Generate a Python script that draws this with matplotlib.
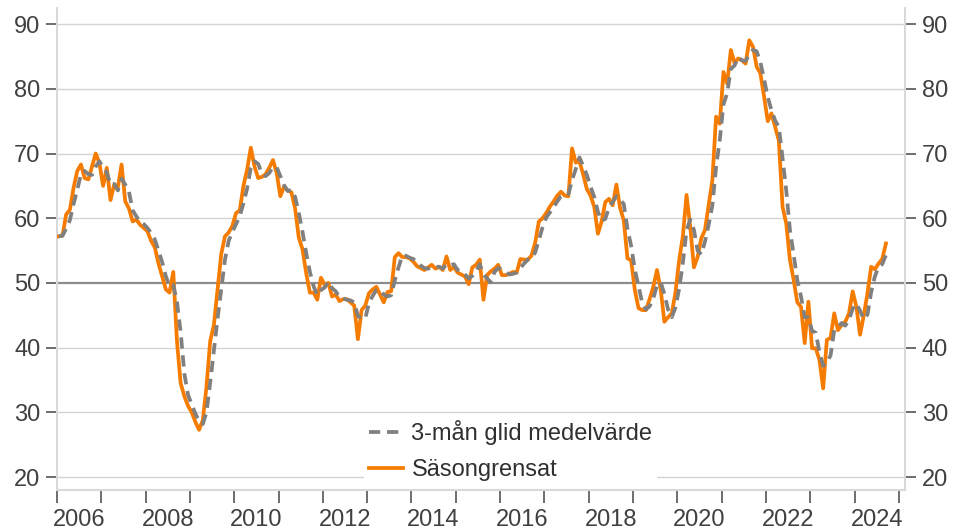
import numpy as np
import matplotlib
matplotlib.use("Agg")
import matplotlib.pyplot as plt

plt.rcParams['font.family'] = ['Liberation Sans', 'DejaVu Sans']

# Säsongrensat, monthly from Jan 2006
sasongrensat = [
    57.2, 57.3, 60.6, 61.3, 64.7, 67.3, 68.3, 66.2, 66.0, 68.0, 70.0, 68.5,  # 2006
    65.0, 67.8, 62.8, 65.2, 64.8, 68.3, 62.6, 61.5, 59.5, 59.8, 59.0, 58.5,  # 2007
    58.0, 56.5, 55.5, 53.0, 51.0, 49.0, 48.5, 51.7, 41.0, 34.5, 32.5, 31.0,  # 2008
    30.0, 28.5, 27.3, 28.8, 34.0, 41.0, 43.5, 49.0, 54.5, 57.2, 57.8, 58.8,  # 2009
    60.8, 61.2, 65.0, 67.5, 70.9, 68.0, 66.2, 66.4, 66.8, 67.8, 69.0, 67.0,  # 2010
    63.4, 64.9, 64.3, 64.0, 61.5, 57.0, 55.2, 51.5, 48.5, 48.5, 47.4, 50.8,  # 2011
    49.7, 50.0, 47.9, 48.2, 47.2, 47.5, 47.5, 47.0, 46.5, 41.3, 45.8, 46.5,  # 2012
    48.4, 49.0, 49.4, 48.2, 47.0, 48.6, 48.7, 54.0, 54.6, 54.0, 54.0, 53.8,  # 2013
    53.3, 52.6, 52.3, 52.0, 52.4, 52.8, 52.2, 52.5, 52.0, 54.1, 52.0, 52.5,  # 2014
    51.6, 51.3, 51.0, 49.8, 52.4, 52.8, 53.6, 47.4, 51.2, 51.8, 52.2, 52.8,  # 2015
    51.2, 51.2, 51.4, 51.7, 51.6, 53.7, 53.6, 53.6, 54.2, 56.2, 59.5, 60.0,  # 2016
    60.8, 61.8, 62.6, 63.5, 64.1, 63.5, 63.4, 70.8, 68.6, 68.8, 66.8, 64.5,  # 2017
    63.5, 61.8, 57.6, 59.5, 62.5, 63.0, 62.0, 65.2, 61.6, 59.7, 53.8, 53.5,  # 2018
    48.9, 46.1, 45.8, 45.8, 47.5, 49.4, 52.0, 49.0, 44.0, 44.7, 45.3, 48.5,  # 2019
    53.5, 57.2, 63.6, 58.7, 52.4, 54.0, 56.9, 58.2, 62.0, 65.9, 75.7, 74.6,  # 2020
    82.6, 80.8, 86.0, 84.0, 84.7, 84.4, 83.9, 87.5, 86.5, 83.4, 82.4, 78.8,  # 2021
    75.0, 76.2, 74.1, 72.0, 61.8, 59.2, 53.6, 50.5, 47.0, 46.3, 40.7, 47.1,  # 2022
    39.9, 39.9, 38.1, 33.7, 41.2, 41.5, 45.3, 42.7, 43.5, 44.0, 45.3, 48.7,  # 2023
    46.3, 42.0, 45.0, 48.4, 52.5, 52.1, 53.0, 53.7, 56.1,                    # 2024
]

# 3-mån glid medelvärde
glid_medel = [
    57.2, 57.3, 58.4, 59.7, 62.2, 64.4, 66.8, 67.3, 66.8, 66.7, 68.0, 68.8,
    67.8, 67.1, 65.2, 65.3, 64.3, 66.1, 65.2, 64.1, 61.2, 60.3, 59.4, 59.1,
    58.5, 57.7, 56.7, 55.0, 53.2, 51.0, 49.5, 49.7, 47.1, 42.4, 36.0, 32.7,
    31.2, 29.8, 28.6, 28.2, 30.0, 34.6, 39.5, 44.5, 49.0, 53.6, 56.5, 57.9,
    59.1, 60.3, 62.3, 64.6, 67.8, 68.8, 68.4, 66.9, 66.5, 67.0, 67.9, 67.9,
    66.5, 65.1, 64.2, 64.4, 63.3, 60.8, 57.9, 54.6, 51.7, 49.5, 48.1, 48.9,
    49.3, 50.2, 49.2, 48.7, 47.8, 47.6, 47.4, 47.3, 47.0, 44.9, 44.5, 44.5,
    46.9, 48.0, 48.9, 48.9, 48.2, 47.9, 48.1, 50.4, 52.4, 54.2, 54.2, 53.9,
    53.7, 53.2, 52.7, 52.3, 52.2, 52.4, 52.5, 52.5, 52.2, 52.9, 52.7, 52.9,
    52.0, 51.8, 51.3, 50.7, 51.1, 51.7, 52.9, 51.3, 50.7, 50.1, 51.7, 52.3,
    52.1, 51.7, 51.3, 51.4, 51.6, 52.3, 53.0, 53.6, 53.8, 54.7, 56.6, 58.6,
    60.1, 60.9, 61.7, 62.6, 63.4, 63.7, 63.7, 65.9, 67.6, 69.4, 68.1, 66.7,
    64.9, 63.3, 61.0, 59.6, 59.9, 61.7, 62.5, 63.4, 62.9, 62.2, 58.4, 55.7,
    52.1, 49.5, 46.9, 45.9, 46.4, 47.6, 49.6, 50.1, 48.3, 45.9, 44.7, 46.2,
    49.1, 53.1, 58.1, 59.8, 58.2, 55.0, 54.4, 56.4, 59.0, 62.0, 67.9, 72.1,
    77.6, 79.3, 83.1, 83.6, 84.9, 84.4, 84.3, 85.3, 86.0, 85.8, 84.1, 81.5,
    78.7, 76.7, 75.1, 74.1, 69.3, 64.3, 58.2, 54.4, 50.4, 47.9, 44.7, 44.7,
    42.6, 42.3, 39.3, 37.2, 37.7, 38.8, 42.7, 43.2, 43.8, 43.4, 44.3, 46.0,
    46.8, 45.7, 44.4, 45.1, 48.6, 51.0, 52.5, 52.9, 54.3,
]

start_year = 2006
years = list(range(2006, 2026))
label_years = list(range(2006, 2025, 2))
y_ticks = [20, 30, 40, 50, 60, 70, 80, 90]

x = start_year + (np.arange(len(sasongrensat)) + 0.5) / 12

text_col = '#404040'
fig = plt.figure(figsize=(9.54, 5.30), dpi=100)
ax = fig.add_axes([0.0597, 0.0755, 0.889, 0.9095])

for v in y_ticks:
    if v == 50:
        ax.axhline(v, color='#8c8c8c', lw=1.6, zorder=1)
    else:
        ax.axhline(v, color='#d4d4d4', lw=1.0, zorder=1)

ax.plot(x, sasongrensat, color='#f57c00', lw=2.7, zorder=3, label='Säsongrensat')
ax.plot(x, glid_medel, color='#808080', lw=2.7, ls=(0, (3.0, 1.8)), zorder=4,
        label='3-mån glid medelvärde')

ax.set_xlim(2006, 2025.14)
ax.set_ylim(18, 92.5)

ax.set_yticks(y_ticks)
ax.tick_params(axis='y', which='both', left=True, right=True, labelleft=True,
               labelright=True, length=8, width=1.2, color='#555555',
               labelsize=17, labelcolor=text_col, pad=4)

ax.set_xticks(years)
ax.set_xticklabels([])
ax.set_xticks([y + 0.5 for y in label_years], minor=True)
ax.set_xticklabels([str(y) for y in label_years], minor=True)
ax.tick_params(axis='x', which='major', length=9, width=1.2, color='#555555', direction='out')
ax.tick_params(axis='x', which='minor', length=0, labelsize=17, labelcolor=text_col, pad=14)

for s in ['left', 'right', 'bottom']:
    ax.spines[s].set_color('#d9d9d9')
    ax.spines[s].set_linewidth(1.5)
ax.spines['top'].set_visible(False)

handles, labels = ax.get_legend_handles_labels()
leg = ax.legend(handles[::-1], labels[::-1], loc='lower center',
                bbox_to_anchor=(0.535, -0.016), frameon=True, fontsize=17,
                handlelength=1.45, handletextpad=0.35, labelspacing=0.58,
                borderpad=0.2)
leg.get_frame().set_facecolor('white')
leg.get_frame().set_edgecolor('none')
leg.get_frame().set_alpha(1)
leg.set_zorder(5)
for t in leg.get_texts():
    t.set_color('#303030')

fig.savefig('out.png', dpi=100)
